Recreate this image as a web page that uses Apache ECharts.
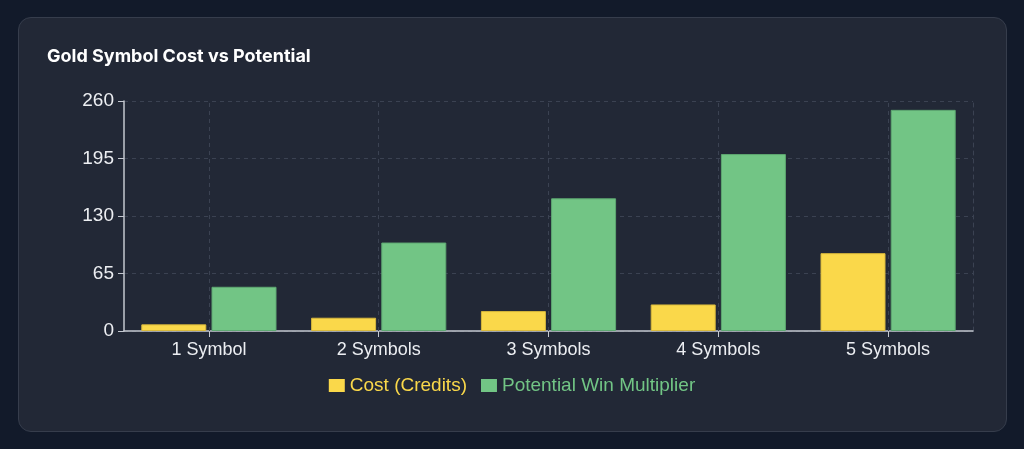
<!DOCTYPE html>
<html>
<head>
<meta charset="utf-8">
<script src="https://cdn.jsdelivr.net/npm/echarts@6/dist/echarts.min.js"></script>
<style>
  html, body { margin:0; padding:0; width:1024px; height:449px; background:#121a2a; overflow:hidden; }
  #card { position:absolute; left:18px; top:17px; width:987px; height:413px; background:#222836; border:1px solid #363d4c; border-radius:13px; }
  #chart { position:absolute; left:0; top:0; width:1024px; height:449px; }
</style>
</head>
<body>
<div id="card"></div>
<div id="chart"></div>
<script>
const categories = ['1 Symbol', '2 Symbols', '3 Symbols', '4 Symbols', '5 Symbols'];
const costValues = [7.5, 15, 22.5, 30, 88];
const winValues = [50, 100, 150, 200, 250];
const yTicks = [0, 65, 130, 195, 260];
const seriesNames = ['Cost (Credits)', 'Potential Win Multiplier'];

const YELLOW = '#fad84a';
const GREEN = '#72c585';
const GRID = '#3b4252';
const AXIS = '#c3c7cf';
const LABEL = '#eceef2';
const FONT = '"Liberation Sans", Arial, sans-serif';

const chart = echarts.init(document.getElementById('chart'), null, { renderer: 'canvas' });
chart.setOption({
  backgroundColor: 'transparent',
  animation: false,
  title: {
    text: 'Gold Symbol Cost vs Potential',
    left: 42, top: 43,
    textStyle: { color: '#ffffff', fontSize: 18, fontWeight: 'bold', fontFamily: 'Inter, "Noto Sans", sans-serif' }
  },
  legend: {
    left: 'center', top: 371,
    itemWidth: 16, itemHeight: 13, itemGap: 14,
    icon: 'rect',
    itemStyle: { borderWidth: 0 },
    data: [
      { name: seriesNames[0], textStyle: { color: YELLOW } },
      { name: seriesNames[1], textStyle: { color: GREEN } }
    ],
    textStyle: { fontSize: 19, fontFamily: FONT }
  },
  grid: { left: 124, right: 51, top: 101, bottom: 118, containLabel: false },
  xAxis: {
    type: 'category',
    data: categories,
    boundaryGap: true,
    axisLine: { show: true, lineStyle: { color: AXIS, width: 1.5 } },
    axisTick: { show: true, alignWithLabel: true, length: 6, lineStyle: { color: AXIS } },
    axisLabel: { color: LABEL, fontSize: 18, fontFamily: FONT, margin: 10 },
    splitLine: { show: false }
  },
  yAxis: [{
    type: 'value',
    min: yTicks[0], max: yTicks[yTicks.length - 1], interval: yTicks[1] - yTicks[0],
    axisLine: { show: true, lineStyle: { color: AXIS, width: 1.5 } },
    axisTick: { show: true, length: 6, lineStyle: { color: AXIS } },
    axisLabel: { color: LABEL, fontSize: 19, fontFamily: FONT, margin: 10 },
    splitLine: { show: true, lineStyle: { color: GRID, type: [4, 4], width: 1 } }
  }, {
    type: 'value', position: 'right',
    min: yTicks[0], max: yTicks[yTicks.length - 1], interval: yTicks[1] - yTicks[0],
    axisLine: { show: true, lineStyle: { color: GRID, type: [4, 4], width: 1 } },
    axisTick: { show: false }, axisLabel: { show: false }, splitLine: { show: false }
  }],
  series: [{
    name: seriesNames[0],
    type: 'bar',
    data: costValues,
    barWidth: 65,
    barGap: '8%',
    itemStyle: { color: YELLOW, borderColor: '#d9b93c', borderWidth: 1 }
  }, {
    name: seriesNames[1],
    type: 'bar',
    data: winValues,
    barWidth: 65,
    itemStyle: { color: GREEN, borderColor: '#5ea872', borderWidth: 1 }
  }, {
    name: 'gridlines',
    type: 'line',
    data: [],
    silent: true,
    z: 0,
    markLine: {
      silent: true, symbol: 'none', label: { show: false },
      lineStyle: { color: GRID, type: [4, 4], width: 1 },
      data: categories.map(c => ({ xAxis: c }))
    }
  }]
});
</script>
</body>
</html>
